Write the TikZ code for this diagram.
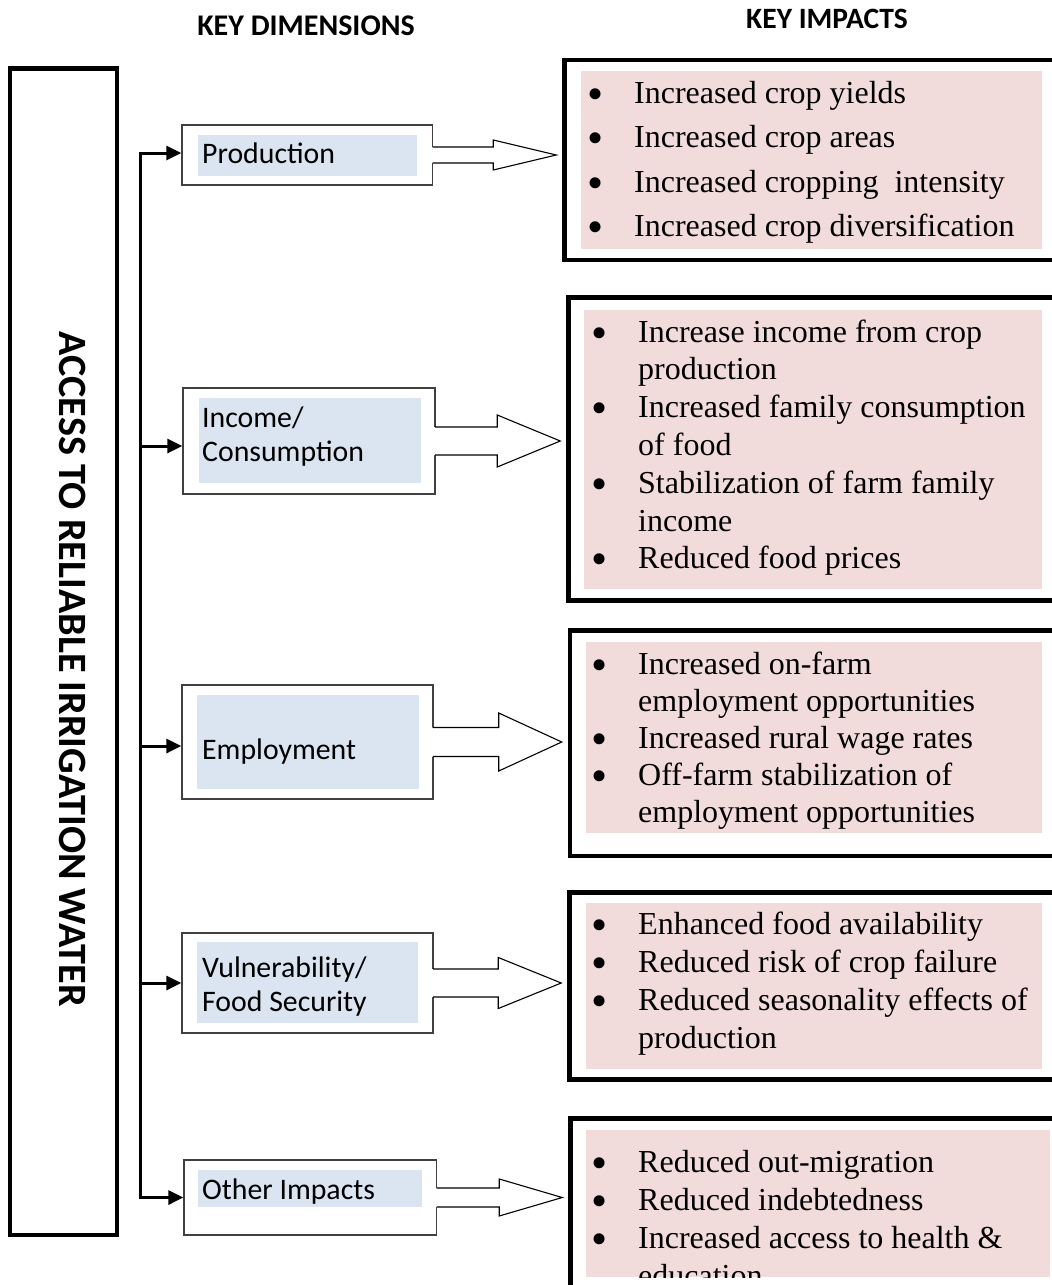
\documentclass[tikz,border=0pt]{standalone}
\usepackage{fontspec}
\setmainfont{Liberation Serif}
\newfontfamily\calfont{Carlito}
\usetikzlibrary{arrows.meta,calc}
\definecolor{dimblue}{HTML}{DBE5F1}
\definecolor{imppink}{HTML}{F2DCDB}
\definecolor{edgegray}{HTML}{404040}
\newcommand{\bulglyph}{\raisebox{-6pt}[0pt][0pt]{\fontsize{46}{38}\selectfont\textbullet}}
\newcommand{\bl}{\makebox[47pt][l]{\bulglyph}}
\newcommand{\cn}{\hspace*{47pt}}
\newcommand{\hollowarrow}[4]{%
  \fill[white] let \p1=(#1.east), \p2=(#2.west) in
    (\x1-1.8pt,\y1+#3) -- (\x2-69pt,\y1+#3) -- (\x2-69pt,\y1+#4) -- (\x2-6pt,\y1)
    -- (\x2-69pt,\y1-#4) -- (\x2-69pt,\y1-#3) -- (\x1-1.8pt,\y1-#3) -- cycle;
  \draw[hollow] let \p1=(#1.east), \p2=(#2.west) in
    (\x1-0.6pt,\y1+#3) -- (\x2-69pt,\y1+#3) -- (\x2-69pt,\y1+#4) -- (\x2-6pt,\y1)
    -- (\x2-69pt,\y1-#4) -- (\x2-69pt,\y1-#3) -- (\x1-0.6pt,\y1-#3);
}
\begin{document}
\begin{tikzpicture}[x=1pt,y=-1pt,
  dimbox/.style={draw=edgegray, line width=1.3pt, fill=white, inner sep=0pt},
  impbox/.style={draw=black, line width=4.5pt, fill=white, inner sep=0pt},
  accbox/.style={draw=black, line width=4.5pt, inner sep=0pt},
  dimtext/.style={font=\calfont\fontsize{29.8}{34}\selectfont, anchor=base west, inner sep=0pt},
  imptext/.style={font=\fontsize{32}{38}\selectfont, anchor=base west, inner sep=0pt},
  headtext/.style={font=\calfont\bfseries\fontsize{30}{36}\selectfont, anchor=base, inner sep=0pt},
  busline/.style={line width=3pt, line join=miter},
  hollow/.style={draw=black, line width=1.1pt, line join=miter},
  tip/.style={-{Triangle[length=15pt,width=14pt]}},
]
\clip (0,0) rectangle (1052,1285);
\fill[white] (0,0) rectangle (1052,1285);

% headers
\node[headtext] (hdim) at (306,35) {KEY DIMENSIONS};
\node[headtext, font=\calfont\bfseries\fontsize{29.5}{34}\selectfont] (himp) at (827,28) {KEY IMPACTS};

% left box
\node[accbox, minimum width=107pt, minimum height=1166.5pt] (acc) at (63.5,651.75) {};
\node[font=\calfont\bfseries\fontsize{40.2}{46}\selectfont, rotate=-90, anchor=base, inner sep=0pt] (acctext) at (59.5,669) {ACCESS TO RELIABLE IRRIGATION WATER};

% dimension boxes
\node[dimbox, minimum width=250.5pt, minimum height=60pt] (prod) at (307.25,155) {};
\node[dimbox, minimum width=252pt, minimum height=106pt] (inc) at (309,441) {};
\node[dimbox, minimum width=251pt, minimum height=114pt] (emp) at (307.5,742) {};
\node[dimbox, minimum width=251pt, minimum height=100pt] (vul) at (307.5,983) {};
\node[dimbox, minimum width=252.5pt, minimum height=75pt] (oth) at (310.25,1197.5) {};

\fill[dimblue] (198,135) rectangle (417,176);
\fill[dimblue] (199,398) rectangle (421,483);
\fill[dimblue] (197,695) rectangle (419,789);
\fill[dimblue] (197,942) rectangle (418,1023);
\fill[dimblue] (198,1170) rectangle (422,1207);

\node[dimtext] (tprod) at (202,163) {Production};
\node[dimtext] (tinc) at (202,427) {\begin{tabular}[t]{@{}l@{}}Income/\\Consumption\end{tabular}};
\node[dimtext] (temp) at (202,759) {Employment};
\node[dimtext] (tvul) at (202,977) {\begin{tabular}[t]{@{}l@{}}Vulnerability/\\Food Security\end{tabular}};
\node[dimtext] (toth) at (202,1199) {Other Impacts};

% impact boxes
\node[impbox, minimum width=505.5pt, minimum height=200pt] (i1) at (817.25,160) {};
\node[impbox, minimum width=501.5pt, minimum height=303pt] (i2) at (819.25,449) {};
\node[impbox, minimum width=500pt, minimum height=225.5pt] (i3) at (820,743.25) {};
\node[impbox, minimum width=500.5pt, minimum height=187pt] (i4) at (819.75,986) {};
\node[impbox, minimum width=499.5pt, minimum height=181.5pt] (i5) at (820.25,1209.25) {};

\fill[imppink] (581,71) rectangle (1042,249);
\fill[imppink] (584,310) rectangle (1042,589);
\fill[imppink] (586,642) rectangle (1042,833);
\fill[imppink] (586,903) rectangle (1042,1069);
\fill[imppink] (586,1130) rectangle (1050,1277);

\node[imptext, font=\fontsize{32}{44.5}\selectfont] (ti1) at (587,103.3) {\begin{tabular}[t]{@{}l@{}}
\bl Increased crop yields\\
\bl Increased crop areas\\
\bl Increased cropping~ intensity\\
\bl Increased crop diversification\end{tabular}};
\node[imptext, font=\fontsize{32}{37.8}\selectfont] (ti2) at (591,342) {\begin{tabular}[t]{@{}l@{}}
\bl Increase income from crop\\
\cn production\\
\bl Increased family consumption\\
\cn of food\\
\bl Stabilization of farm family\\
\cn income\\
\bl Reduced food prices\end{tabular}};
\node[imptext, font=\fontsize{32}{37.2}\selectfont] (ti3) at (591,674) {\begin{tabular}[t]{@{}l@{}}
\bl Increased on-farm\\
\cn employment opportunities\\
\bl Increased rural wage rates\\
\bl Off-farm stabilization of\\
\cn employment opportunities\end{tabular}};
\node[imptext] (ti4) at (591,934) {\begin{tabular}[t]{@{}l@{}}
\bl Enhanced food availability\\
\bl Reduced risk of crop failure\\
\bl Reduced seasonality effects of\\
\cn production\end{tabular}};
\begin{scope}
\clip (586,1130) rectangle (1050,1277);
\node[imptext] (ti5) at (591,1172) {\begin{tabular}[t]{@{}l@{}}
\bl Reduced out-migration\\
\bl Reduced indebtedness\\
\bl Increased access to health \&\\
\cn education\end{tabular}};
\end{scope}

% bus connectors
\coordinate (busx) at (140,0);
\coordinate (aprod) at ([yshift=2pt]prod.west);
\coordinate (ainc) at ([yshift=-5pt]inc.west);
\coordinate (aemp) at ([yshift=-4pt]emp.west);
\coordinate (avul) at (vul.west);
\coordinate (aoth) at (oth.west);
\draw[busline, {Triangle[length=15pt,width=14pt]}-{Triangle[length=15pt,width=14pt]}]
  (aprod) -| (busx |- aoth) -- (aoth);
\draw[busline, tip] (busx |- ainc) -- (ainc);
\draw[busline, tip] (busx |- aemp) -- (aemp);
\draw[busline, tip] (busx |- avul) -- (avul);

% hollow arrows
\hollowarrow{prod}{i1}{8pt}{15pt}
\hollowarrow{inc}{i2}{14pt}{26pt}
\hollowarrow{emp}{i3}{14.5pt}{29pt}
\hollowarrow{vul}{i4}{14pt}{25.5pt}
\hollowarrow{oth}{i5}{9.5pt}{18.5pt}
\end{tikzpicture}
\end{document}
